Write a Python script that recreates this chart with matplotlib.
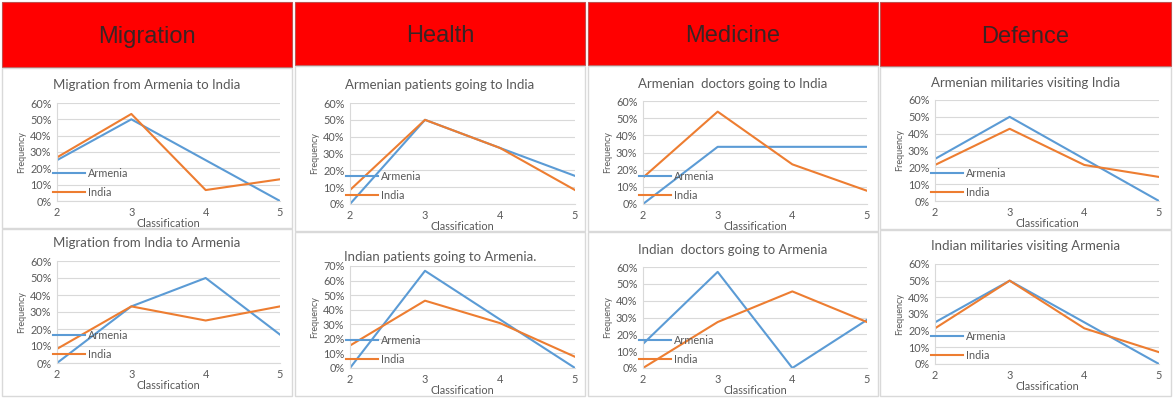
import matplotlib
matplotlib.use('Agg')
import matplotlib.pyplot as plt
from matplotlib.patches import Rectangle
from matplotlib.ticker import PercentFormatter

plt.rcParams['font.family'] = ['Lato', 'DejaVu Sans']

W, H = 1173, 398

classes = [2, 3, 4, 5]
series_names = ['Armenia', 'India']
headers = ['Migration', 'Health', 'Medicine', 'Defence']

titles = [
    ['Migration from Armenia to India', 'Migration from India to Armenia'],
    ['Armenian patients going to India', 'Indian patients going to Armenia.'],
    ['Armenian  doctors going to India', 'Indian  doctors going to Armenia'],
    ['Armenian militaries visiting India', 'Indian militaries visiting Armenia'],
]

# fractions
armenia = [
    [[0.25, 0.50, 0.25, 0.0], [0.0, 0.333, 0.50, 0.167]],
    [[0.0, 0.50, 0.333, 0.167], [0.0, 0.667, 0.333, 0.0]],
    [[0.0, 0.333, 0.333, 0.333], [0.143, 0.571, 0.0, 0.286]],
    [[0.25, 0.50, 0.25, 0.0], [0.25, 0.50, 0.25, 0.0]],
]
india = [
    [[0.267, 0.533, 0.067, 0.133], [0.083, 0.333, 0.25, 0.333]],
    [[0.083, 0.50, 0.333, 0.083], [0.154, 0.462, 0.308, 0.077]],
    [[0.154, 0.538, 0.231, 0.077], [0.0, 0.273, 0.455, 0.273]],
    [[0.214, 0.429, 0.214, 0.143], [0.214, 0.50, 0.214, 0.071]],
]
ymax = [[0.6, 0.6], [0.6, 0.7], [0.6, 0.6], [0.6, 0.6]]

# layout in pixels
col_x = [(2, 292), (295, 585), (588, 878), (880, 1171)]
head_bottom = [67, 65, 65, 66]
split_y = [228, 231, 231, 229]
ax_x = [(57, 280), (350, 575), (643, 867), (935, 1159)]
ax_y = [[(103, 201), (261, 363)], [(103, 204), (266, 368)],
        [(101, 204), (267, 368)], [(100, 201), (264, 364)]]
title_y = [(85, 243), (85, 257), (84, 250), (83, 246)]

blue = '#5B9BD5'
orange = '#ED7D31'
grey = '#595959'

fig = plt.figure(figsize=(W / 100, H / 100), dpi=100)


def fx(p):
    return p / W


def fy(p):
    return 1 - p / H


for c in range(4):
    x0, x1 = col_x[c]
    # red header
    fig.patches.append(Rectangle((fx(x0), fy(head_bottom[c])), fx(x1 - x0), (head_bottom[c] - 2) / H,
                                 transform=fig.transFigure, facecolor='#FF0000',
                                 edgecolor='#C0504D', linewidth=0.8, zorder=-2))
    fig.text(fx((x0 + x1) / 2), fy((head_bottom[c] + 2) / 2 + 3), headers[c],
             ha='center', va='center', fontsize=17, color='#3a2424',
             family=['Liberation Sans', 'DejaVu Sans'])
    # panel frames
    for top, bot in [(head_bottom[c] + 1, split_y[c]), (split_y[c] + 1, 396)]:
        fig.patches.append(Rectangle((fx(x0), fy(bot)), fx(x1 - x0), (bot - top) / H,
                                     transform=fig.transFigure, facecolor='white',
                                     edgecolor='#D9D9D9', linewidth=1.0, zorder=-2))
    for r in range(2):
        ya, yb = ax_y[c][r]
        xa, xb = ax_x[c]
        ax = fig.add_axes([fx(xa), fy(yb), fx(xb - xa), (yb - ya) / H])
        ax.plot(classes, armenia[c][r], color=blue, lw=1.5, label=series_names[0])
        ax.plot(classes, india[c][r], color=orange, lw=1.5, label=series_names[1])
        ax.set_xlim(2, 5)
        ax.set_ylim(0, ymax[c][r])
        ax.set_xticks(classes)
        ax.set_yticks([i / 10 for i in range(int(round(ymax[c][r] * 10)) + 1)])
        ax.yaxis.set_major_formatter(PercentFormatter(1.0, decimals=0))
        ax.grid(axis='y', color='#D9D9D9', lw=0.8)
        ax.set_axisbelow(True)
        for s in ['top', 'right']:
            ax.spines[s].set_visible(False)
        ax.spines['left'].set_color('#D9D9D9')
        ax.spines['bottom'].set_color('#D9D9D9')
        ax.tick_params(length=0, labelsize=7.8, colors=grey, pad=4)
        ax.set_xlabel('Classification', fontsize=7.8, color=grey, labelpad=0)
        ax.set_ylabel('Frequency', fontsize=6.5, color=grey, labelpad=3)
        # chart title centred on the panel, as in the source charts
        fig.text(fx((x0 + x1) / 2), fy(title_y[c][r]), titles[c][r],
                 ha='center', va='center', fontsize=9.5, color=grey)
        ax.patch.set_alpha(0)
        ax.legend(loc='lower left', bbox_to_anchor=(-0.02, 0.03), frameon=False,
                  fontsize=7.8, labelcolor=grey, handlelength=3.0, handletextpad=0.3,
                  borderpad=0, borderaxespad=0, labelspacing=0.75)

fig.savefig('out.png', dpi=100)
